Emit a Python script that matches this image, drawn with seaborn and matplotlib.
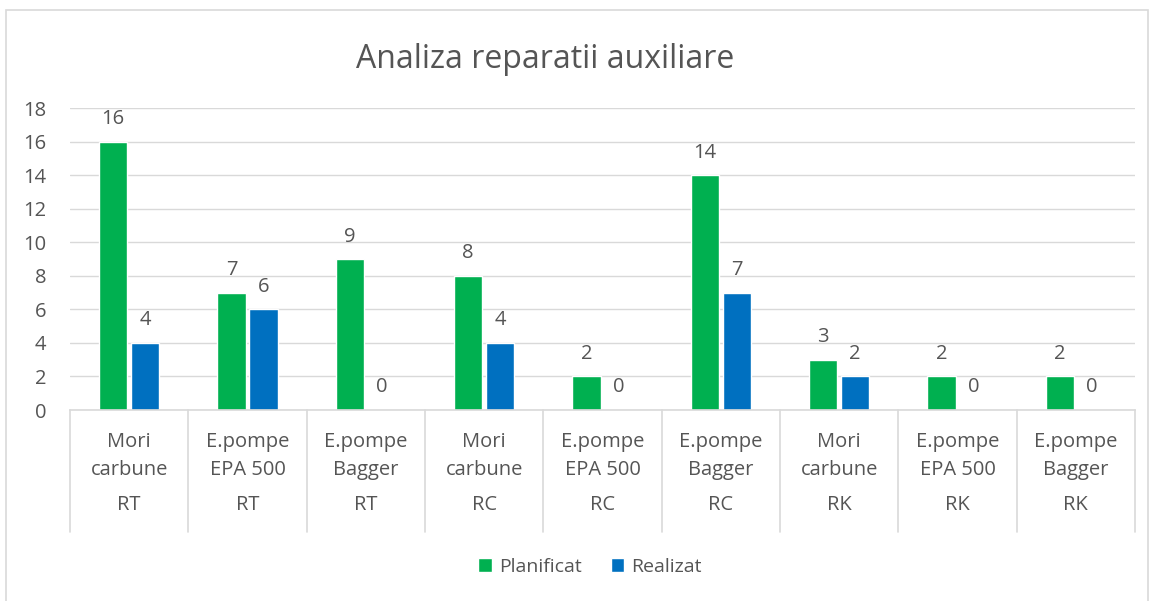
import matplotlib
matplotlib.use("Agg")
import matplotlib.pyplot as plt
import seaborn as sns
import pandas as pd
from matplotlib.patches import Rectangle
from matplotlib.transforms import blended_transform_factory

groups = ["RT", "RT", "RT", "RC", "RC", "RC", "RK", "RK", "RK"]
items = ["Mori\ncarbune", "E.pompe\nEPA 500", "E.pompe\nBagger",
         "Mori\ncarbune", "E.pompe\nEPA 500", "E.pompe\nBagger",
         "Mori\ncarbune", "E.pompe\nEPA 500", "E.pompe\nBagger"]
planificat = [16, 7, 9, 8, 2, 14, 3, 2, 2]
realizat = [4, 6, 0, 4, 0, 7, 2, 0, 0]
series = ["Planificat", "Realizat"]
colors = ["#00B050", "#0070C0"]
yticks = [0, 2, 4, 6, 8, 10, 12, 14, 16, 18]
title = "Analiza reparatii auxiliare"

keys = [f"{i}|{g}|{n}" for n, (i, g) in enumerate(zip(items, groups))]
df = pd.DataFrame({
    "key": keys * 2,
    "serie": [series[0]] * len(keys) + [series[1]] * len(keys),
    "val": planificat + realizat,
})

sns.set_theme(style="white")
plt.rcParams["font.family"] = ["Open Sans", "DejaVu Sans"]
txt = "#555555"
grid = "#D9D9D9"
fs = 14.5

fig = plt.figure(figsize=(11.5, 6.01), dpi=100)
ax = fig.add_axes([70 / 1150, 1 - 410 / 601, (1135 - 70) / 1150, (410 - 108) / 601])

sns.barplot(data=df, x="key", y="val", hue="serie", palette=colors,
            width=0.54, gap=0.12, saturation=1, ax=ax, legend=True)

for c in ax.containers:
    ax.bar_label(c, fmt="%d", padding=9, fontsize=fs, color=txt)

ax.set_ylim(0, 18)
ax.set_xlim(-0.5, len(keys) - 0.5)
ax.set_yticks(yticks)
ax.set_yticklabels([str(v) for v in yticks], fontsize=fs, color=txt)
ax.yaxis.grid(True, color=grid, linewidth=1)
ax.set_axisbelow(True)
ax.set_xlabel("")
ax.set_ylabel("")
for s in ["left", "right", "top"]:
    ax.spines[s].set_visible(False)
ax.spines["bottom"].set_color(grid)
ax.spines["bottom"].set_linewidth(1.2)
ax.tick_params(axis="y", length=0, pad=17)
ax.tick_params(axis="x", length=0, pad=16)
ax.set_xticks(range(len(keys)))
ax.set_xticklabels(items, fontsize=fs, color=txt, linespacing=1.55, va="top")

tr = blended_transform_factory(ax.transData, ax.transAxes)
for b in range(len(keys) + 1):
    ax.plot([b - 0.5, b - 0.5], [0, -0.404], transform=tr, color=grid,
            linewidth=1.2, clip_on=False)
for n, g in enumerate(groups):
    ax.text(n, -(505 - 410) / 302, g, transform=tr, ha="center", va="center",
            fontsize=fs, color=txt)

leg = ax.legend(loc="center", bbox_to_anchor=(590 / 1150, 1 - 567 / 601),
                bbox_transform=fig.transFigure, ncol=2, frameon=False,
                fontsize=14, handlelength=0.7, handleheight=0.7,
                handletextpad=0.35, columnspacing=1.5)
for t in leg.get_texts():
    t.set_color(txt)

fig.text(545 / 1150, 1 - 60 / 601, title, ha="center", va="center",
         fontsize=23, color=txt)

fig.patches.append(Rectangle((6 / 1150, -0.01), (1148 - 6) / 1150, 1 - 10 / 601 + 0.01,
                             transform=fig.transFigure, fill=False,
                             edgecolor=grid, linewidth=1.2))

fig.savefig("out.png", dpi=100)
